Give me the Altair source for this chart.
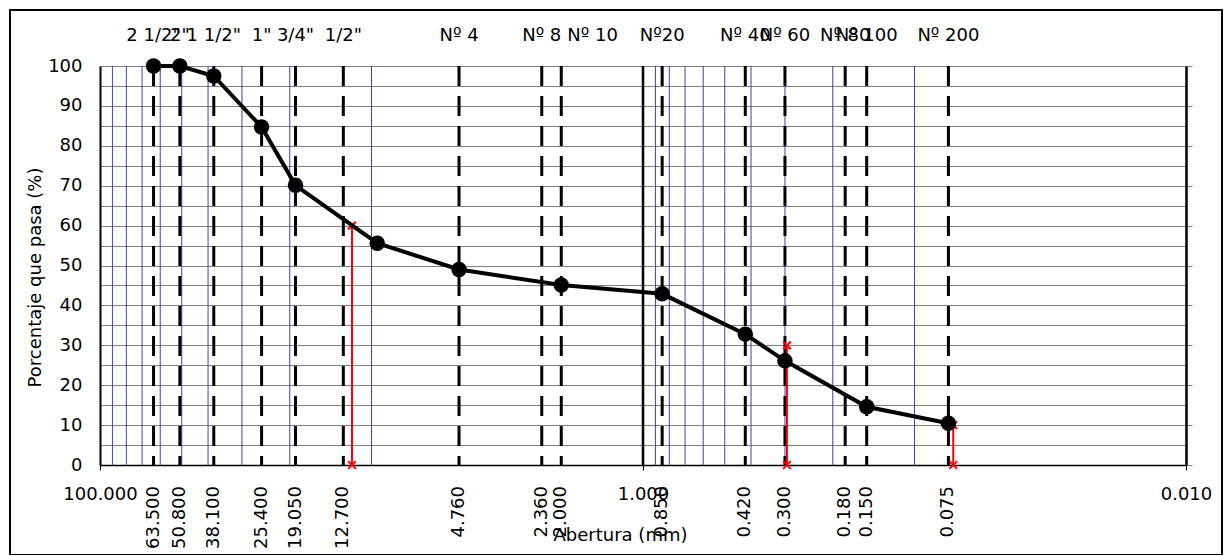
import altair as alt
import pandas as pd

# ---- data ----
sieve_mm = [63.5, 50.8, 38.1, 25.4, 19.05, 12.7, 4.76, 2.36, 2.0, 0.85, 0.42, 0.30, 0.18, 0.15, 0.075]
sieve_name = ['2 1/2"', '2"', '1 1/2"', '1"', '3/4"', '1/2"', 'Nº 4', 'Nº 8', 'Nº 10',
              'Nº20', 'Nº 40', 'Nº 60', 'Nº 80', 'Nº 100', 'Nº 200']

curve_mm = [63.5, 50.8, 38.1, 25.4, 19.05, 9.525, 4.76, 2.0, 0.85, 0.42, 0.30, 0.15, 0.075]
curve_pct = [100, 100, 97.5, 84.7, 70.1, 55.6, 49.0, 45.1, 42.9, 32.8, 26.1, 14.6, 10.45]

d_mm = [11.8, 0.295, 0.072]
d_pct = [60, 30, 10]

minor_mm = [90, 80, 70, 60, 50, 40, 30, 20, 10, 0.9, 0.8, 0.7, 0.6, 0.5, 0.4, 0.3, 0.2, 0.1]
major_mm = [1.0]

x_axis_values = [100, 1, 0.01]
y_grid_values = list(range(0, 101, 5))
y_tick_values = list(range(0, 101, 10))

FONT = "DejaVu Sans"

sieves = pd.DataFrame({"mm": sieve_mm, "name": sieve_name})
curve = pd.DataFrame({"mm": curve_mm, "pct": curve_pct})
dlines = pd.DataFrame({"mm": d_mm, "top": d_pct, "bottom": [0] * len(d_mm)})
dmarks = pd.DataFrame({"mm": d_mm + d_mm, "pct": d_pct + [0] * len(d_mm)})
minor = pd.DataFrame({"mm": minor_mm})
major = pd.DataFrame({"mm": major_mm})

xscale = alt.Scale(type="log", domain=[0.01, 100], reverse=True, nice=False)
yscale = alt.Scale(domain=[0, 100], nice=False)

XAXIS = alt.Axis(values=x_axis_values, format=".3f", labelAngle=0, grid=False, tickSize=5,
                 tickColor="black", domainColor="black", domainWidth=1.5, labelPadding=15,
                 labelOverlap=False, labelFlush=False, labelAlign="center",
                 title="Abertura (mm)", titleX=520, titleY=75,
                 titleAlign="center", titleBaseline="alphabetic")


def X():
    return alt.X("mm:Q", scale=xscale, axis=XAXIS)


minor_layer = alt.Chart(minor).mark_rule(color="#4040b0", strokeWidth=1).encode(x=X())
dashed_layer = alt.Chart(sieves).mark_rule(color="black", strokeWidth=3, strokeDash=[20, 10]).encode(x=X())
major_layer = alt.Chart(major).mark_rule(color="black", strokeWidth=2.5).encode(x=X())

red_lines = alt.Chart(dlines).mark_rule(color="red", strokeWidth=2).encode(
    x=X(),
    y=alt.Y("top:Q", scale=yscale, axis=alt.Axis(
        orient="right", values=y_tick_values, labels=False, ticks=True, tickSize=6,
        tickColor="#808080", domainColor="black", domainWidth=2.5, grid=False, title=None)),
    y2="bottom:Q",
)
red_marks = alt.Chart(dmarks).mark_point(
    shape="M-1,-1L1,1M-1,1L1,-1", size=60, color="red", filled=False, strokeWidth=2, opacity=1
).encode(x=X(), y=alt.Y("pct:Q", scale=yscale, axis=None))

curve_line = alt.Chart(curve).mark_line(color="black", strokeWidth=4).encode(
    x=X(),
    y=alt.Y("pct:Q", scale=yscale, axis=alt.Axis(
        orient="left", values=y_grid_values,
        labelExpr="datum.value % 10 === 0 ? datum.label : ''",
        ticks=False, domainColor="black", domainWidth=2, grid=True, gridColor="#808080",
        gridWidth=1, labelPadding=18, title="Porcentaje  que pasa (%)",
        titleX=-65, titleY=211, titleAngle=270, titleAlign="center", titleBaseline="middle")),
)
curve_points = alt.Chart(curve).mark_circle(size=240, color="black", opacity=1).encode(
    x=X(), y=alt.Y("pct:Q", scale=yscale, axis=None)
)

top_labels = alt.Chart(sieves).transform_filter(
    "datum.name !== 'Nº 10'"
).mark_text(
    font=FONT, fontSize=18, baseline="middle", align="center", color="black"
).encode(x=X(), y=alt.value(-30), text="name:N")

top_label_n10 = alt.Chart(sieves).transform_filter(
    "datum.name === 'Nº 10'"
).mark_text(
    font=FONT, fontSize=18, baseline="middle", align="left", dx=6, color="black"
).encode(x=X(), y=alt.value(-30), text="name:N")

bottom_labels = alt.Chart(sieves).mark_text(
    font=FONT, fontSize=18, angle=270, align="right", baseline="middle", color="black"
).encode(x=X(), y=alt.value(420), text=alt.Text("mm:Q", format=".3f"))

frame = alt.Chart(pd.DataFrame({"a": [0]})).mark_rect(
    filled=False, stroke="black", strokeWidth=2
).encode(x=alt.value(-90), x2=alt.value(1122), y=alt.value(-56), y2=alt.value(489))

chart = alt.layer(
    minor_layer, dashed_layer, major_layer, red_lines, red_marks,
    curve_line, curve_points, top_labels, top_label_n10, bottom_labels, frame
).resolve_axis(y="independent").properties(
    width=1086, height=399,
    autosize=alt.AutoSizeParams(type="none"),
    padding={"left": 92, "top": 58, "right": 38, "bottom": 90},
).configure_view(stroke=None).configure_axis(
    labelFont=FONT, titleFont=FONT, labelFontSize=18, titleFontSize=18,
    labelColor="black", titleColor="black", titleFontWeight="normal",
)

chart.save("out.html", embed_options={"renderer": "svg", "actions": False})
